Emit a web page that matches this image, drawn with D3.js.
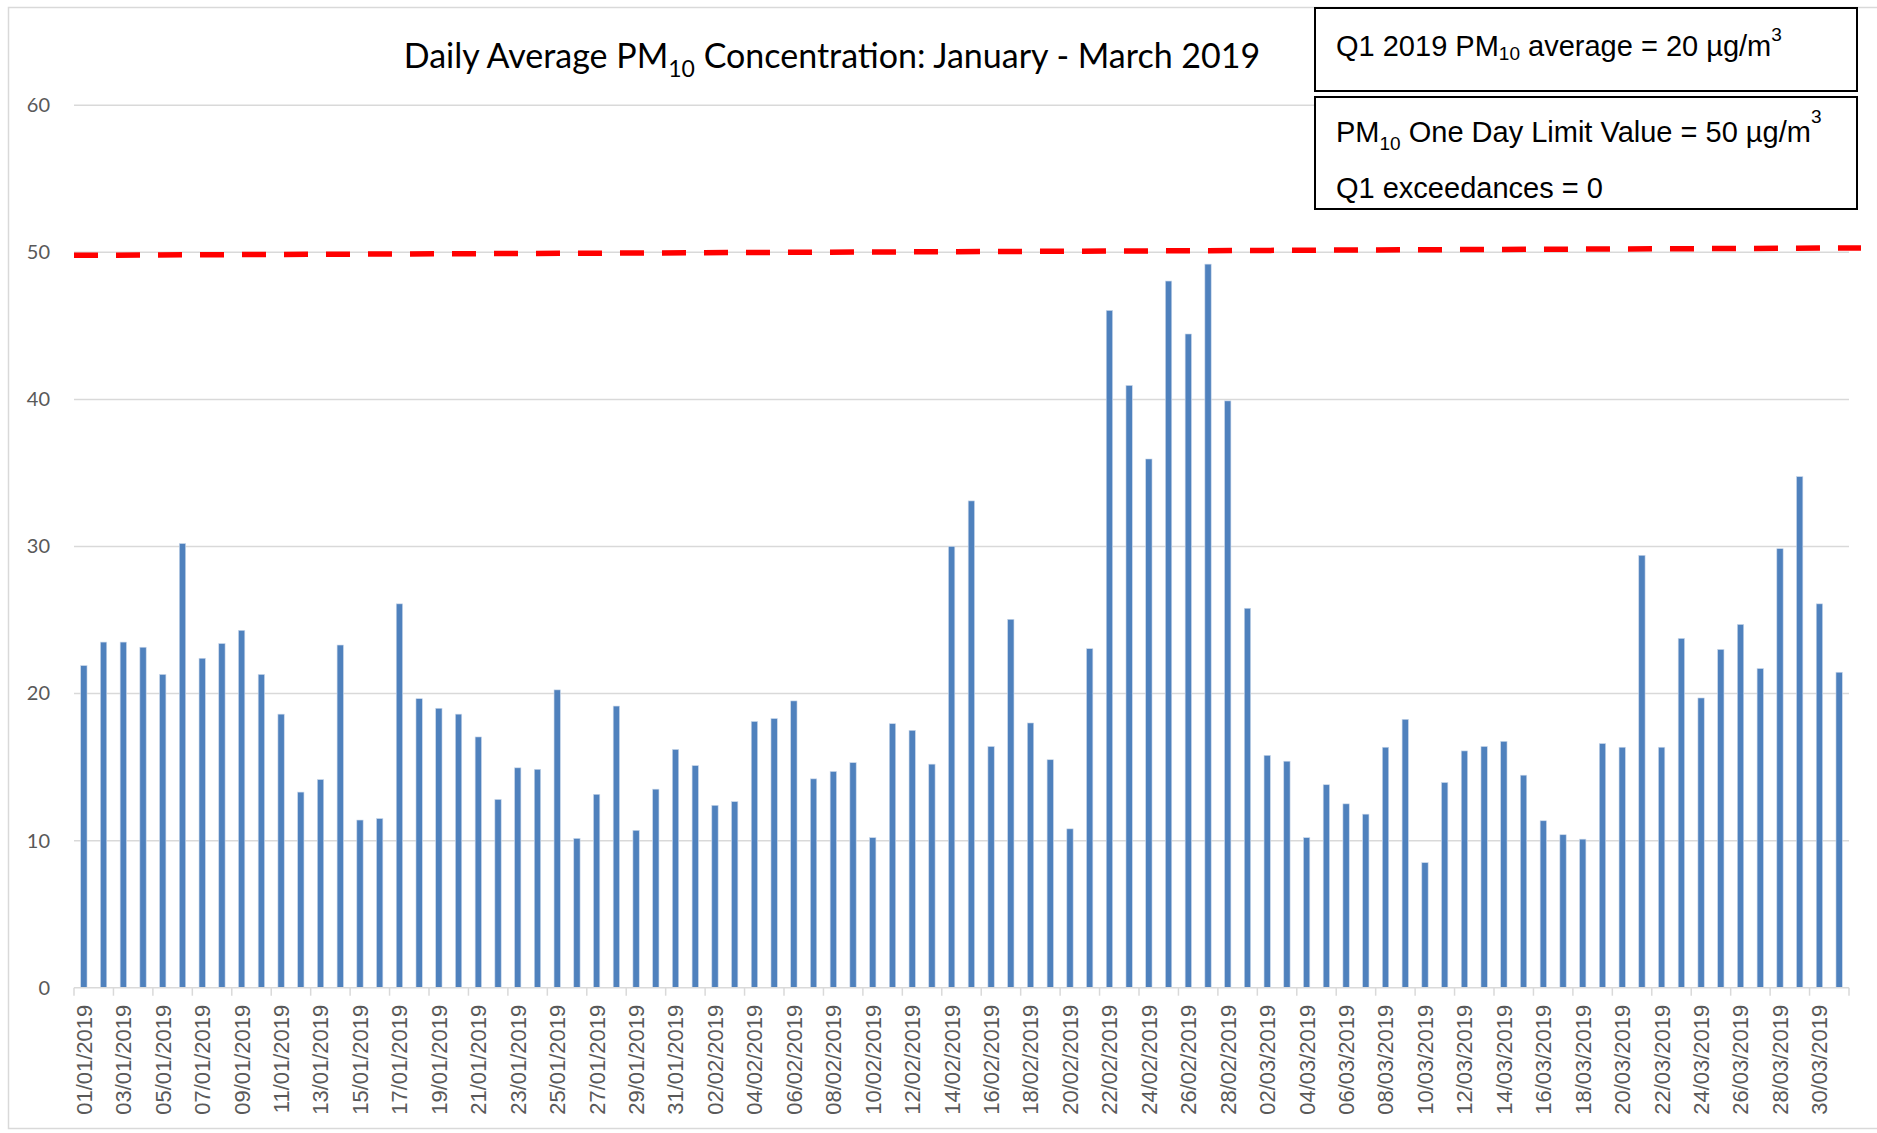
<!DOCTYPE html>
<html>
<head>
<meta charset="utf-8">
<script src="https://cdn.jsdelivr.net/npm/d3@7"></script>
<style>
  html, body { margin: 0; padding: 0; background: #fff; }
  svg { display: block; }
</style>
</head>
<body>
<svg id="chart" width="1877" height="1133"></svg>
<script>
// ---------------- data ----------------
const janDays = ["01/01/2019","02/01/2019","03/01/2019","04/01/2019","05/01/2019","06/01/2019","07/01/2019","08/01/2019","09/01/2019","10/01/2019","11/01/2019","12/01/2019","13/01/2019","14/01/2019","15/01/2019","16/01/2019","17/01/2019","18/01/2019","19/01/2019","20/01/2019","21/01/2019","22/01/2019","23/01/2019","24/01/2019","25/01/2019","26/01/2019","27/01/2019","28/01/2019","29/01/2019","30/01/2019","31/01/2019"];
const febDays = ["01/02/2019","02/02/2019","03/02/2019","04/02/2019","05/02/2019","06/02/2019","07/02/2019","08/02/2019","09/02/2019","10/02/2019","11/02/2019","12/02/2019","13/02/2019","14/02/2019","15/02/2019","16/02/2019","17/02/2019","18/02/2019","19/02/2019","20/02/2019","21/02/2019","22/02/2019","23/02/2019","24/02/2019","25/02/2019","26/02/2019","27/02/2019","28/02/2019"];
const marDays = ["01/03/2019","02/03/2019","03/03/2019","04/03/2019","05/03/2019","06/03/2019","07/03/2019","08/03/2019","09/03/2019","10/03/2019","11/03/2019","12/03/2019","13/03/2019","14/03/2019","15/03/2019","16/03/2019","17/03/2019","18/03/2019","19/03/2019","20/03/2019","21/03/2019","22/03/2019","23/03/2019","24/03/2019","25/03/2019","26/03/2019","27/03/2019","28/03/2019","29/03/2019","30/03/2019","31/03/2019"];

const janValues = [21.9,23.5,23.5,23.15,21.3,30.2,22.4,23.4,24.3,21.3,18.6,13.3,14.15,23.3,11.4,11.5,26.1,19.65,19.0,18.6,17.05,12.8,14.95,14.85,20.25,10.15,13.15,19.15,10.7,13.5,16.2];
const febValues = [15.1,12.4,12.65,18.1,18.3,19.5,14.2,14.7,15.3,10.2,17.95,17.5,15.2,30.0,33.1,16.4,25.05,18.0,15.5,10.8,23.05,46.05,40.95,35.95,48.05,44.45,49.2,39.9];
const marValues = [25.8,15.8,15.4,10.2,13.8,12.5,11.8,16.35,18.25,8.5,13.95,16.1,16.4,16.75,14.45,11.35,10.4,10.1,16.6,16.35,29.4,16.35,23.75,19.7,23.0,24.7,21.7,29.85,34.75,26.1,21.45];

const yTicks = [0,10,20,30,40,50,60];
const limitValues = [49.8, 50.3];   // red dashed limit line (start, end) as drawn
const titleParts = ["Daily Average PM", "10", " Concentration: January - March 2019"];
const box1Lines = [["Q1 2019 PM", "10", " average = 20 µg/m", "3"]];
const box2Lines = [["PM", "10", " One Day Limit Value = 50 µg/m", "3"], ["Q1 exceedances = 0", "", "", ""]];

const days = janDays.concat(febDays, marDays);
const values = janValues.concat(febValues, marValues);
const data = days.map((d, i) => ({ day: d, value: values[i] }));

// ---------------- layout ----------------
const W = 1877, H = 1133;
const plot = { left: 74, right: 1849, top: 105.3, bottom: 987.7 };

const svg = d3.select("#chart");
svg.append("rect").attr("x", 0).attr("y", 0).attr("width", W).attr("height", H).attr("fill", "#fff");
// chart frame
svg.append("rect").attr("x", 8.5).attr("y", 7.5).attr("width", W + 20).attr("height", 1121)
  .attr("fill", "none").attr("stroke", "#D9D9D9").attr("stroke-width", 1.5);

const y = d3.scaleLinear().domain([0, 60]).range([plot.bottom, plot.top]);
const xCat = d3.scaleBand().domain(days).range([plot.left, plot.right]).padding(0);
const xBar = d3.scaleBand().domain(days).range([plot.left, plot.right]).paddingInner(0.68).paddingOuter(0.34);

// gridlines
svg.append("g").selectAll("line").data(yTicks.filter(t => t > 0)).join("line")
  .attr("x1", plot.left).attr("x2", plot.right)
  .attr("y1", d => y(d)).attr("y2", d => y(d))
  .attr("stroke", "#D9D9D9").attr("stroke-width", 1.5);

// y-axis labels
const yAxis = d3.axisLeft(y).tickValues(yTicks).tickSize(0).tickPadding(24);
const gy = svg.append("g").attr("transform", `translate(${plot.left},0)`).call(yAxis);
gy.select(".domain").remove();
gy.selectAll("text").attr("fill", "#595959").style("font-family", "Lato, 'Open Sans', sans-serif").style("font-size", "20px");

// bars
svg.append("g").selectAll("rect").data(data).join("rect")
  .attr("x", d => xBar(d.day))
  .attr("width", xBar.bandwidth())
  .attr("y", d => y(d.value))
  .attr("height", d => y(0) - y(d.value))
  .attr("fill", "#4F81BD")
  .attr("stroke", "#C9D7EA").attr("stroke-width", 0.6);

// x axis
const labelDays = days.filter((d, i) => i % 2 === 0);
const xAxis = d3.axisBottom(xCat).tickValues(labelDays).tickSize(0).tickPadding(0);
const gx = svg.append("g").attr("transform", `translate(0,${plot.bottom})`).call(xAxis);
gx.select(".domain").remove();
gx.selectAll("text")
  .attr("transform", "rotate(-90)")
  .attr("x", -17).attr("y", 0).attr("dy", "0.36em")
  .attr("text-anchor", "end")
  .attr("fill", "#595959")
  .style("font-family", "'Liberation Sans', Arial, sans-serif").style("font-size", "22px");
// axis line + tick marks at category boundaries (every 2 days)
svg.append("line").attr("x1", plot.left).attr("x2", plot.right).attr("y1", plot.bottom).attr("y2", plot.bottom)
  .attr("stroke", "#D9D9D9").attr("stroke-width", 1.5);
const boundaryDays = labelDays;
const tickXs = boundaryDays.map(d => xCat(d)).concat([xCat.range()[1]]);
svg.append("g").selectAll("line").data(tickXs).join("line")
  .attr("x1", d => d).attr("x2", d => d)
  .attr("y1", plot.bottom).attr("y2", plot.bottom + 8)
  .attr("stroke", "#D9D9D9").attr("stroke-width", 1.5);

// limit line (red dashed)
svg.append("line")
  .attr("x1", plot.left).attr("x2", plot.right + 12)
  .attr("y1", y(limitValues[0])).attr("y2", y(limitValues[1]))
  .attr("stroke", "#FF0000").attr("stroke-width", 5.5)
  .attr("stroke-dasharray", "24 18");

// title
function richText(sel, parts, mainSize, subSize, subDy, supDy) {
  sel.append("tspan").text(parts[0]);
  if (parts[1]) sel.append("tspan").attr("dy", subDy).style("font-size", subSize + "px").text(parts[1]);
  if (parts[2]) sel.append("tspan").attr("dy", parts[1] ? -subDy : 0).text(parts[2]);
  if (parts[3]) sel.append("tspan").attr("dy", supDy).style("font-size", subSize + "px").text(parts[3]);
}
const title = svg.append("text").attr("x", 832).attr("y", 68).attr("text-anchor", "middle")
  .style("font-family", "Lato, 'Open Sans', sans-serif").style("font-size", "34px").attr("fill", "#000");
richText(title, titleParts, 34, 23, 9, 0);

// text boxes
const boxFont = "'Liberation Sans', Arial, sans-serif";
svg.append("rect").attr("x", 1315).attr("y", 8).attr("width", 542).attr("height", 83)
  .attr("fill", "#fff").attr("stroke", "#000").attr("stroke-width", 2);
svg.append("rect").attr("x", 1315).attr("y", 97).attr("width", 542).attr("height", 112)
  .attr("fill", "#fff").attr("stroke", "#000").attr("stroke-width", 2);

const t1 = svg.append("text").attr("x", 1336).attr("y", 56).style("font-family", boxFont).style("font-size", "29px");
richText(t1, box1Lines[0], 29, 19, 4, -15);
const t2 = svg.append("text").attr("x", 1336).attr("y", 142).style("font-family", boxFont).style("font-size", "29px");
richText(t2, box2Lines[0], 29, 19, 8, -19);
const t3 = svg.append("text").attr("x", 1336).attr("y", 198).style("font-family", boxFont).style("font-size", "29px");
richText(t3, box2Lines[1], 29, 19, 0, 0);
</script>
</body>
</html>
